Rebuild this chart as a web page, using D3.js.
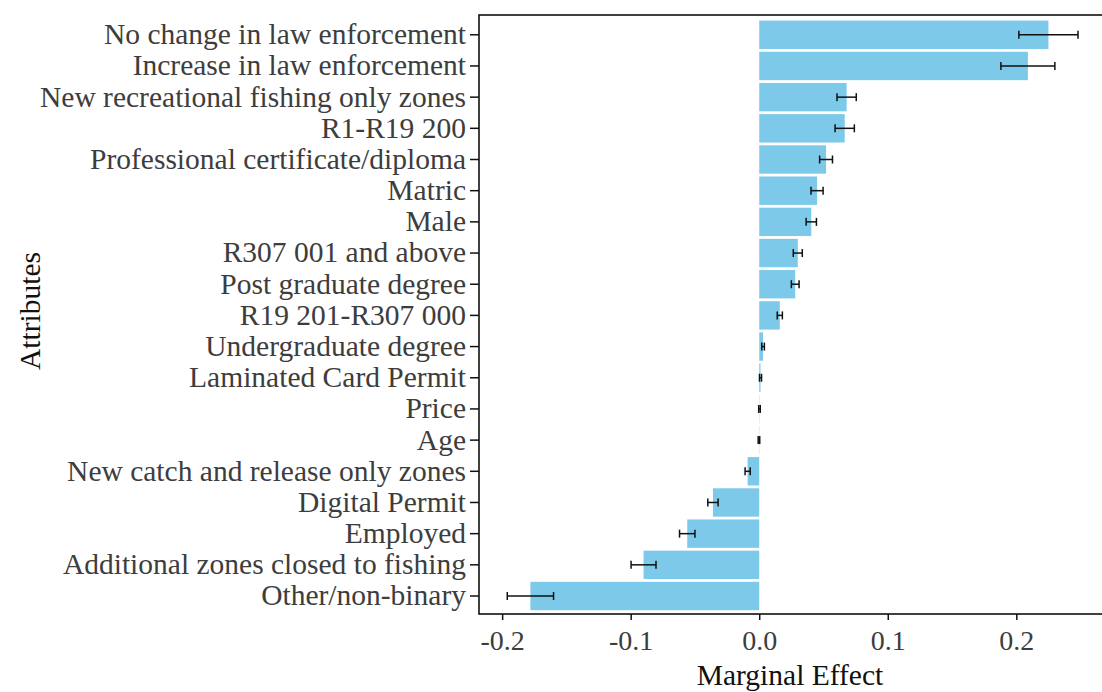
<!DOCTYPE html>
<html>
<head>
<meta charset="utf-8">
<script src="https://cdn.jsdelivr.net/npm/d3@7"></script>
<style>
  html, body { margin: 0; padding: 0; background: #fff; }
  svg { display: block; }
  text { font-family: "Liberation Serif", "Times New Roman", serif; }
</style>
</head>
<body>
<svg id="chart" width="1102" height="692"></svg>
<script>
// Attribute levels, top to bottom
const attributes = [
  "No change in law enforcement",
  "Increase in law enforcement",
  "New recreational fishing only zones",
  "R1-R19 200",
  "Professional certificate/diploma",
  "Matric",
  "Male",
  "R307 001 and above",
  "Post graduate degree",
  "R19 201-R307 000",
  "Undergraduate degree",
  "Laminated Card Permit",
  "Price",
  "Age",
  "New catch and release only zones",
  "Digital Permit",
  "Employed",
  "Additional zones closed to fishing",
  "Other/non-binary"
];

// Marginal effects and half-widths of the error bars
const marginalEffect = [
  0.225, 0.209, 0.068, 0.0665, 0.052, 0.045, 0.0405, 0.030, 0.028, 0.016,
  0.003, 0.001, 0.0002, -0.0002, -0.009, -0.036, -0.056, -0.090, -0.178
];
const errorHalfWidth = [
  0.023, 0.021, 0.0075, 0.0075, 0.005, 0.0047, 0.004, 0.0035, 0.003, 0.002,
  0.001, 0.0008, 0.0006, 0.0006, 0.002, 0.004, 0.006, 0.0097, 0.018
];

const xTicks = [-0.2, -0.1, 0.0, 0.1, 0.2];

const rows = attributes.map((a, i) => ({
  name: a, value: marginalEffect[i], err: errorHalfWidth[i]
}));

const svg = d3.select("#chart");
const panel = { left: 479, right: 1105, top: 15, bottom: 614 };
const serif = "'Liberation Serif', 'Times New Roman', serif";

const x = d3.scaleLinear()
  .domain([-0.218, 0.269])
  .range([panel.left, panel.right]);

const y = d3.scaleBand()
  .domain(attributes)
  .range([20.6, 610.2])
  .paddingInner(0.09)
  .paddingOuter(0);

// Bars
svg.append("g")
  .selectAll("rect")
  .data(rows)
  .join("rect")
  .attr("x", d => x(Math.min(0, d.value)))
  .attr("width", d => Math.abs(x(d.value) - x(0)))
  .attr("y", d => y(d.name))
  .attr("height", y.bandwidth())
  .attr("fill", "#7cc9ea");

// Error bars
const capH = 8;
const eb = svg.append("g")
  .attr("stroke", "#111")
  .attr("stroke-width", 1.5)
  .selectAll("g")
  .data(rows)
  .join("g")
  .attr("transform", d => `translate(0,${y(d.name) + y.bandwidth() / 2})`);
eb.append("line")
  .attr("x1", d => x(d.value - d.err))
  .attr("x2", d => x(d.value + d.err));
eb.append("line")
  .attr("x1", d => x(d.value - d.err))
  .attr("x2", d => x(d.value - d.err))
  .attr("y1", -capH / 2).attr("y2", capH / 2);
eb.append("line")
  .attr("x1", d => x(d.value + d.err))
  .attr("x2", d => x(d.value + d.err))
  .attr("y1", -capH / 2).attr("y2", capH / 2);

// Panel border
svg.append("rect")
  .attr("x", panel.left)
  .attr("y", panel.top)
  .attr("width", panel.right - panel.left)
  .attr("height", panel.bottom - panel.top)
  .attr("fill", "none")
  .attr("stroke", "#111")
  .attr("stroke-width", 1.6);

// Axes
const xAxis = svg.append("g")
  .attr("transform", `translate(0,${panel.bottom})`)
  .call(d3.axisBottom(x).tickValues(xTicks).tickFormat(d => d.toFixed(1)).tickSize(6).tickPadding(10));
const yAxis = svg.append("g")
  .attr("transform", `translate(${panel.left},0)`)
  .call(d3.axisLeft(y).tickSize(9).tickPadding(4));

[xAxis, yAxis].forEach(g => {
  g.select(".domain").remove();
  g.selectAll(".tick line").attr("stroke", "#111").attr("stroke-width", 1.5);
  g.selectAll(".tick text")
    .attr("fill", "#3d3d3d")
    .style("font-family", serif);
});
xAxis.selectAll(".tick text").style("font-size", "28px");
yAxis.selectAll(".tick text").style("font-size", "29.5px");

// Axis titles
svg.append("text")
  .attr("x", (panel.left + 1101) / 2)
  .attr("y", 685)
  .attr("text-anchor", "middle")
  .attr("fill", "#111")
  .style("font-size", "29.5px")
  .text("Marginal Effect");

svg.append("text")
  .attr("transform", `translate(40,311) rotate(-90)`)
  .attr("text-anchor", "middle")
  .attr("fill", "#111")
  .style("font-size", "29.5px")
  .text("Attributes");
</script>
</body>
</html>
